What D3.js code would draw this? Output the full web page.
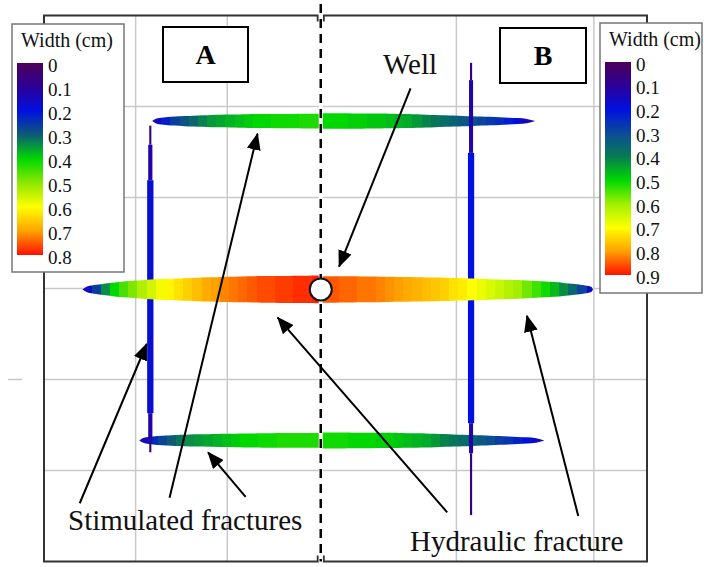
<!DOCTYPE html>
<html>
<head>
<meta charset="utf-8">
<script src="https://cdn.jsdelivr.net/npm/d3@7"></script>
<style>
  html, body { margin: 0; padding: 0; background: #fff; }
  svg { display: block; font-family: "Liberation Serif", "Times New Roman", serif; }
</style>
</head>
<body>
<svg id="chart" width="704" height="567"></svg>
<script>
// ---- Width legends (cm) ----
const legendTicksA = [0, 0.1, 0.2, 0.3, 0.4, 0.5, 0.6, 0.7, 0.8];
const legendColorsA = ["#4d0058", "#2c0098", "#0010e0", "#0d5c74", "#00d800", "#8ee800", "#ffff00", "#ffa200", "#ff1000"];
const legendTicksB = [0, 0.1, 0.2, 0.3, 0.4, 0.5, 0.6, 0.7, 0.8, 0.9];
const legendColorsB = ["#4d0058", "#2c0098", "#0010e0", "#0c4a98", "#077c52", "#00d800", "#a0f000", "#ffff00", "#ffa000", "#ff1000"];

// ---- Plan-view grid (m) ----
const gridX = [100, 200, 450, 600];
const gridY = [100, 200, 300, 400, 500];
const wellX = 302;
const wellY = 301;

// ---- Hydraulic fracture: cell centres (m) and widths (cm) ----
const hfY = 301;
const hfTips = [42, 599];
const hfLeftX = [47, 57, 67, 77, 87, 97, 107, 117, 127, 137, 147, 157, 167, 177, 187, 197, 207, 217, 227, 237, 247, 257, 267, 277, 287, 297];
const hfLeftW = [0.16, 0.26, 0.34, 0.40, 0.45, 0.49, 0.53, 0.56, 0.59, 0.61, 0.63, 0.65, 0.67, 0.69, 0.70, 0.72, 0.73, 0.74, 0.75, 0.76, 0.76, 0.77, 0.77, 0.78, 0.78, 0.79];
const hfRightX = [307, 317, 327, 337, 347, 357, 367, 377, 387, 397, 407, 417, 427, 437, 447, 457, 467, 477, 487, 497, 507, 517, 527, 537, 547, 557, 567, 577, 587, 597];
const hfRightW = [0.85, 0.85, 0.84, 0.84, 0.83, 0.83, 0.82, 0.81, 0.80, 0.79, 0.78, 0.77, 0.76, 0.75, 0.73, 0.72, 0.70, 0.68, 0.66, 0.64, 0.62, 0.60, 0.57, 0.54, 0.51, 0.47, 0.42, 0.36, 0.29, 0.17];

// ---- Upper stimulated fracture ----
const upY = 116;
const upTips = [118, 536];
const upLeftX = [123, 133, 143, 153, 163, 173, 183, 193, 203, 213, 223, 233, 243, 253, 263, 273, 283, 293];
const upLeftW = [0.15, 0.22, 0.26, 0.29, 0.31, 0.33, 0.35, 0.36, 0.37, 0.38, 0.39, 0.40, 0.40, 0.41, 0.41, 0.41, 0.42, 0.42];
const upRightX = [307, 317, 327, 337, 347, 357, 367, 377, 387, 397, 407, 417, 427, 437, 447, 457, 467, 477, 487, 497, 507, 517, 527];
const upRightW = [0.50, 0.50, 0.50, 0.49, 0.49, 0.48, 0.48, 0.47, 0.46, 0.45, 0.43, 0.41, 0.39, 0.37, 0.35, 0.33, 0.31, 0.29, 0.27, 0.25, 0.22, 0.19, 0.14];

// ---- Lower stimulated fracture ----
const loY = 467;
const loTips = [104, 546];
const loLeftX = [109, 119, 129, 139, 149, 159, 169, 179, 189, 199, 209, 219, 229, 239, 249, 259, 269, 279, 289, 299];
const loLeftW = [0.15, 0.23, 0.27, 0.30, 0.32, 0.34, 0.35, 0.36, 0.37, 0.38, 0.39, 0.40, 0.40, 0.41, 0.41, 0.42, 0.42, 0.42, 0.42, 0.42];
const loRightX = [307, 317, 327, 337, 347, 357, 367, 377, 387, 397, 407, 417, 427, 437, 447, 457, 467, 477, 487, 497, 507, 517, 527, 537];
const loRightW = [0.51, 0.51, 0.51, 0.50, 0.50, 0.50, 0.49, 0.49, 0.48, 0.47, 0.46, 0.45, 0.43, 0.41, 0.39, 0.37, 0.35, 0.33, 0.31, 0.28, 0.26, 0.23, 0.20, 0.15];

// ---- Vertical stimulated fractures: segment bounds (m) and widths (cm) ----
const vaX = 116;
const vaBounds = [121, 142, 181, 437, 466, 480];
const vaW = [0.06, 0.12, 0.18, 0.12, 0.06];
const vbX = 466;
const vbBounds = [52, 71, 151, 448, 481, 549];
const vbW = [0.07, 0.13, 0.20, 0.13, 0.07];

// ---- Scales ----
const svg = d3.select("#chart");
const x = d3.scaleLinear().domain([0, 658]).range([44, 647]);
const y = d3.scaleLinear().domain([0, 600]).range([15.5, 561.5]);
const colorA = d3.scaleLinear().domain(legendTicksA).range(legendColorsA).clamp(true);
const colorB = d3.scaleLinear().domain(legendTicksB).range(legendColorsB).clamp(true);
const thickA = d3.scaleLinear().domain([0, 0.8]).range([0, 28]);
const thickB = d3.scaleLinear().domain([0, 0.9]).range([0, 28]);

const defs = svg.append("defs");
defs.append("marker")
  .attr("id", "head")
  .attr("viewBox", "0 0 17 14")
  .attr("markerUnits", "userSpaceOnUse")
  .attr("markerWidth", 17).attr("markerHeight", 14)
  .attr("refX", 16).attr("refY", 7)
  .attr("orient", "auto")
  .append("path").attr("d", "M0,0 L17,7 L0,14 Z").attr("fill", "#000");

// ---- Grid ----
const grid = svg.append("g").attr("stroke", "#c9c9c9").attr("stroke-width", 1.5);
grid.selectAll("line.gx").data(gridX).join("line").attr("class", "gx")
  .attr("x1", d => x(d)).attr("x2", d => x(d)).attr("y1", y(0)).attr("y2", y(600));
grid.selectAll("line.gy").data(gridY).join("line").attr("class", "gy")
  .attr("x1", x(0)).attr("x2", x(658)).attr("y1", d => y(d)).attr("y2", d => y(d));
grid.append("line").attr("x1", 8).attr("x2", 22).attr("y1", y(400)).attr("y2", y(400));

// ---- Panel frames ----
const xm = x(wellX);
svg.append("path")
  .attr("d", `M${x(0)},${y(0) + 6}V${y(0)}H${xm - 3}V${y(0) + 6}` +
             `M${x(0)},${y(0)}V${y(600)}H${xm - 3}V${y(600) - 6}` +
             `M${xm + 3},${y(0) + 6}V${y(0)}H${x(658)}V${y(600)}H${xm + 3}V${y(600) - 6}`)
  .attr("fill", "none").attr("stroke", "#333").attr("stroke-width", 2);

// ---- Fractures ----
let gradId = 0;
function halfFracture(xs, ws, tip, yc, color, thick) {
  const cells = xs.map((v, i) => ({ x: v, w: ws[i] }));
  const leftSide = tip < wellX;
  const innerW = leftSide ? cells[cells.length - 1].w : cells[0].w;
  const pts = leftSide
    ? [{ x: tip, w: 0 }, ...cells, { x: wellX, w: innerW }]
    : [{ x: wellX, w: innerW }, ...cells, { x: tip, w: 0 }];
  const x0 = pts[0].x, x1 = pts[pts.length - 1].x;
  const id = "fg" + (gradId++);
  const grad = defs.append("linearGradient").attr("id", id)
    .attr("gradientUnits", "userSpaceOnUse")
    .attr("x1", x(x0)).attr("x2", x(x1)).attr("y1", 0).attr("y2", 0);
  const span = x(x1) - x(x0);
  cells.forEach((c, i) => {
    const a = i === 0 ? x0 : (cells[i - 1].x + c.x) / 2;
    const b = i === cells.length - 1 ? x1 : (cells[i + 1].x + c.x) / 2;
    grad.append("stop").attr("offset", (x(a) - x(x0)) / span).attr("stop-color", color(c.w));
    grad.append("stop").attr("offset", (x(b) - x(x0)) / span).attr("stop-color", color(c.w));
  });
  const area = d3.area()
    .x(d => x(d.x))
    .y0(d => y(yc) - thick(d.w) / 2)
    .y1(d => y(yc) + thick(d.w) / 2)
    .curve(d3.curveMonotoneX);
  svg.append("path").datum(pts).attr("d", area).attr("fill", `url(#${id})`);
}

function verticalFracture(xc, bounds, ws, color, thick) {
  const segs = ws.map((w, i) => ({ y0: bounds[i], y1: bounds[i + 1], w }));
  svg.append("g").selectAll("rect").data(segs).join("rect")
    .attr("x", d => x(xc) - thick(d.w) / 2)
    .attr("width", d => thick(d.w))
    .attr("y", d => y(d.y0))
    .attr("height", d => y(d.y1) - y(d.y0))
    .attr("fill", d => color(d.w));
}

halfFracture(upLeftX, upLeftW, upTips[0], upY, colorA, thickA);
halfFracture(upRightX, upRightW, upTips[1], upY, colorB, thickB);
halfFracture(loLeftX, loLeftW, loTips[0], loY, colorA, thickA);
halfFracture(loRightX, loRightW, loTips[1], loY, colorB, thickB);
verticalFracture(vaX, vaBounds, vaW, colorA, thickA);
verticalFracture(vbX, vbBounds, vbW, colorB, thickB);
halfFracture(hfLeftX, hfLeftW, hfTips[0], hfY, colorA, thickA);
halfFracture(hfRightX, hfRightW, hfTips[1], hfY, colorB, thickB);

// ---- Panel divider through the well ----
svg.append("line").attr("x1", xm).attr("x2", xm).attr("y1", 4).attr("y2", y(600))
  .attr("stroke", "#fff").attr("stroke-width", 4);
svg.append("line").attr("x1", xm).attr("x2", xm).attr("y1", 4).attr("y2", y(600))
  .attr("stroke", "#000").attr("stroke-width", 2.5).attr("stroke-dasharray", "9,6");

// ---- Well ----
svg.append("circle").attr("cx", x(wellX)).attr("cy", y(wellY)).attr("r", 11)
  .attr("fill", "#fff").attr("stroke", "#111").attr("stroke-width", 2);

// ---- Legends ----
function legend(x0, y0, w, h, barX, ticks, colors, scaleY) {
  const g = svg.append("g");
  g.append("rect").attr("x", x0).attr("y", y0).attr("width", w).attr("height", h)
    .attr("fill", "#fff").attr("stroke", "#777").attr("stroke-width", 1.5);
  g.append("text").attr("x", x0 + 9).attr("y", y0 + 23).attr("font-size", 20).attr("fill", "#111")
    .text("Width (cm)");
  const id = "lg" + (gradId++);
  const lg = defs.append("linearGradient").attr("id", id).attr("x1", 0).attr("x2", 0).attr("y1", 0).attr("y2", 1);
  ticks.forEach((t, i) => lg.append("stop").attr("offset", i / (ticks.length - 1)).attr("stop-color", colors[i]));
  const top = scaleY(ticks[0]) - 2, bot = scaleY(ticks[ticks.length - 1]) - 2;
  g.append("rect").attr("x", barX).attr("y", top).attr("width", 26).attr("height", bot - top)
    .attr("fill", `url(#${id})`);
  g.selectAll("text.tk").data(ticks).join("text").attr("class", "tk")
    .attr("x", barX + 31).attr("y", d => scaleY(d)).attr("dy", "0.35em")
    .attr("font-size", 19).attr("fill", "#111")
    .text(d => d === 0 ? "0" : d3.format(".1f")(d));
}
legend(12, 24, 112, 248, 17, legendTicksA, legendColorsA, d3.scaleLinear().domain([0, 0.8]).range([65, 257]));
legend(600, 23, 102, 270, 605, legendTicksB, legendColorsB, d3.scaleLinear().domain([0, 0.9]).range([64, 277]));

// ---- Case labels ----
const cases = [{ label: "A", x0: 163, y0: 27, w: 85, h: 55 }, { label: "B", x0: 500, y0: 28, w: 86, h: 55 }];
const cg = svg.append("g").selectAll("g").data(cases).join("g");
cg.append("rect").attr("x", d => d.x0).attr("y", d => d.y0).attr("width", d => d.w).attr("height", d => d.h)
  .attr("fill", "#fff").attr("stroke", "#000").attr("stroke-width", 2);
cg.append("text").attr("x", d => d.x0 + d.w / 2).attr("y", d => d.y0 + d.h / 2).attr("dy", "0.35em")
  .attr("text-anchor", "middle").attr("font-size", 28).attr("font-weight", "bold").text(d => d.label);

// ---- Annotations ----
const arrows = [
  { from: [400, 80], to: [322, 276] },
  { from: [39, 536], to: [112, 361] },
  { from: [137, 530], to: [233, 130] },
  { from: [220, 529], to: [179, 480] },
  { from: [440, 546], to: [255, 332] },
  { from: [583, 550], to: [527, 330] }
];
svg.append("g").selectAll("line").data(arrows).join("line")
  .attr("x1", d => x(d.from[0])).attr("y1", d => y(d.from[1]))
  .attr("x2", d => x(d.to[0])).attr("y2", d => y(d.to[1]))
  .attr("stroke", "#000").attr("stroke-width", 2).attr("marker-end", "url(#head)");

const notes = [
  { text: "Well", x: 383, y: 74 },
  { text: "Stimulated fractures", x: 68, y: 530 },
  { text: "Hydraulic fracture", x: 410, y: 551 }
];
svg.append("g").selectAll("text").data(notes).join("text")
  .attr("x", d => d.x).attr("y", d => d.y).attr("font-size", 29).attr("fill", "#111")
  .text(d => d.text);
</script>
</body>
</html>
